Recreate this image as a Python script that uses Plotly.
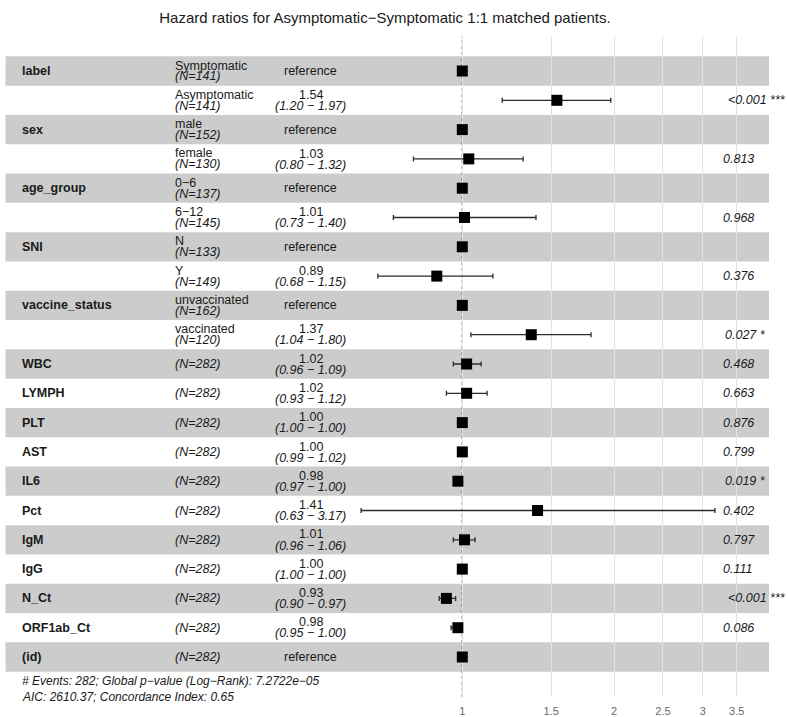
import math
import plotly.graph_objects as go

# Cox model summary, one entry per table row (top to bottom)
var_names = ["label", "", "sex", "", "age_group", "", "SNI", "", "vaccine_status", "",
             "WBC", "LYMPH", "PLT", "AST", "IL6", "Pct", "IgM", "IgG", "N_Ct", "ORF1ab_Ct", "(id)"]
levels = ["Symptomatic", "Asymptomatic", "male", "female", "0−6", "6−12", "N", "Y",
          "unvaccinated", "vaccinated", "", "", "", "", "", "", "", "", "", "", ""]
n_counts = [141, 141, 152, 130, 137, 145, 133, 149, 162, 120,
            282, 282, 282, 282, 282, 282, 282, 282, 282, 282, 282]
hazard_ratio = [1.00, 1.54, 1.00, 1.03, 1.00, 1.01, 1.00, 0.89, 1.00, 1.37,
                1.02, 1.02, 1.00, 1.00, 0.98, 1.41, 1.01, 1.00, 0.93, 0.98, 1.00]
ci_lower = [None, 1.20, None, 0.80, None, 0.73, None, 0.68, None, 1.04,
            0.96, 0.93, 1.00, 0.99, 0.97, 0.63, 0.96, 1.00, 0.90, 0.95, None]
ci_upper = [None, 1.97, None, 1.32, None, 1.40, None, 1.15, None, 1.80,
            1.09, 1.12, 1.00, 1.02, 1.00, 3.17, 1.06, 1.00, 0.97, 1.00, None]
p_values = ["", "<0.001", "", "0.813", "", "0.968", "", "0.376", "", "0.027",
            "0.468", "0.663", "0.876", "0.799", "0.019", "0.402", "0.797", "0.111", "<0.001", "0.086", ""]
stars = ["", "***", "", "", "", "", "", "", "", "*",
         "", "", "", "", "*", "", "", "", "***", "", ""]
x_ticks = [1, 1.5, 2, 2.5, 3, 3.5]
x_tick_labels = ["1", "1.5", "2", "2.5", "3", "3.5"]

title_text = "Hazard ratios for Asymptomatic−Symptomatic 1:1 matched patients."
footer_lines = ["# Events: 282; Global p−value (Log−Rank): 7.2722e−05",
                "AIC: 2610.37; Concordance Index: 0.65"]

# ---- page geometry (pixels) ----
W, H = 788, 717
TOP, BOTTOM = 36, 697          # panel vertical extent
ROW0, ROW_H = 71.0, 29.3       # first row centre, row pitch
X1_PX, PX_PER_DECADE = 462.3, 504.3
FONT = "Liberation Sans, Arial, Helvetica, sans-serif"
FS = 12.5
TXT = "#1a1a1a"

n_rows = len(var_names)
rows = [-i for i in range(n_rows)]
y_top = (ROW0 - TOP) / ROW_H
y_bot = y_top - (BOTTOM - TOP) / ROW_H
x_lo = -X1_PX / PX_PER_DECADE
x_hi = (W - X1_PX) / PX_PER_DECADE


def px(x):
    return x / W


def text_width(s, size):
    em = {".": 0.278, " ": 0.278, "<": 0.584, "*": 0.389}
    return sum(em.get(c, 0.556) for c in s) * size


def label(x, y, text, xanchor="left", yshift=0, size=FS, yref="y"):
    return dict(x=x, y=y, xref="paper", yref=yref, text=text, yshift=yshift,
                xanchor=xanchor, yanchor="middle", showarrow=False, borderpad=0,
                font=dict(family=FONT, size=size, color=TXT))


fig = go.Figure()

err_plus = [(u - h) if u is not None else 0 for u, h in zip(ci_upper, hazard_ratio)]
err_minus = [(h - l) if l is not None else 0 for l, h in zip(ci_lower, hazard_ratio)]

fig.add_trace(go.Scatter(
    x=hazard_ratio, y=rows, mode="markers",
    marker=dict(symbol="square", size=11, color="#000000", line=dict(width=0)),
    error_x=dict(type="data", symmetric=False, array=err_plus, arrayminus=err_minus,
                 color="#2b2b2b", thickness=1.3, width=2.5),
    hoverinfo="skip", showlegend=False,
))

shapes = []
for i, r in enumerate(rows):
    if i % 2 == 0:
        shapes.append(dict(type="rect", xref="paper", yref="y",
                           x0=px(5.5), x1=px(769), y0=r - 0.5, y1=r + 0.5,
                           fillcolor="rgba(0,0,0,0.2)", line=dict(width=0), layer="between"))
shapes.append(dict(type="line", xref="x", yref="paper", x0=1, x1=1, y0=0, y1=1,
                   line=dict(color="#111111", width=1.1, dash="dot"), layer="between"))

ann = []
for i, r in enumerate(rows):
    if var_names[i]:
        ann.append(label(px(21), r, "<b>%s</b>" % var_names[i]))
    n_txt = "<i>(N=%d)</i>" % n_counts[i]
    if levels[i]:
        ann.append(label(px(174), r, levels[i], yshift=5.5))
        ann.append(label(px(174), r, n_txt, yshift=-5.4))
    else:
        ann.append(label(px(174), r, n_txt))
    if ci_lower[i] is None:
        ann.append(label(px(310.5), r, "reference", xanchor="center"))
    else:
        ann.append(label(px(310.5), r, "%.2f" % hazard_ratio[i], xanchor="center", yshift=5.4))
        ann.append(label(px(310.5), r, "<i>(%.2f − %.2f)</i>" % (ci_lower[i], ci_upper[i]),
                         xanchor="center", yshift=-5.7))
    if p_values[i]:
        txt = (p_values[i] + " " + stars[i]) if stars[i] else p_values[i]
        left = 716 + 0.2 * text_width(txt, FS)
        ann.append(label(px(left), r, "<i>%s</i>" % txt))

for k, line in enumerate(footer_lines):
    ypx = 681 + 16 * k
    ann.append(label(px(21), (BOTTOM - ypx) / (BOTTOM - TOP), "<i>%s</i>" % line,
                     size=12, yref="paper"))

fig.update_layout(
    width=W, height=H,
    margin=dict(l=0, r=0, t=TOP, b=H - BOTTOM, pad=0),
    paper_bgcolor="white", plot_bgcolor="white",
    title=dict(text=title_text, x=385 / W, xanchor="center", y=1 - 18 / H, yanchor="middle",
               yref="container", font=dict(family=FONT, size=15, color=TXT)),
    shapes=shapes, annotations=ann,
    xaxis=dict(type="log", range=[x_lo, x_hi], tickvals=x_ticks, ticktext=x_tick_labels,
               showgrid=True, gridcolor="#e3e3e3", gridwidth=1, showline=False, zeroline=False,
               ticks="outside", ticklen=4, tickcolor="rgba(0,0,0,0)",
               tickfont=dict(family=FONT, size=11, color="#6a6a6a")),
    yaxis=dict(range=[y_bot, y_top], showgrid=False, zeroline=False, showticklabels=False,
               showline=False),
)

fig.write_html("out.html")
